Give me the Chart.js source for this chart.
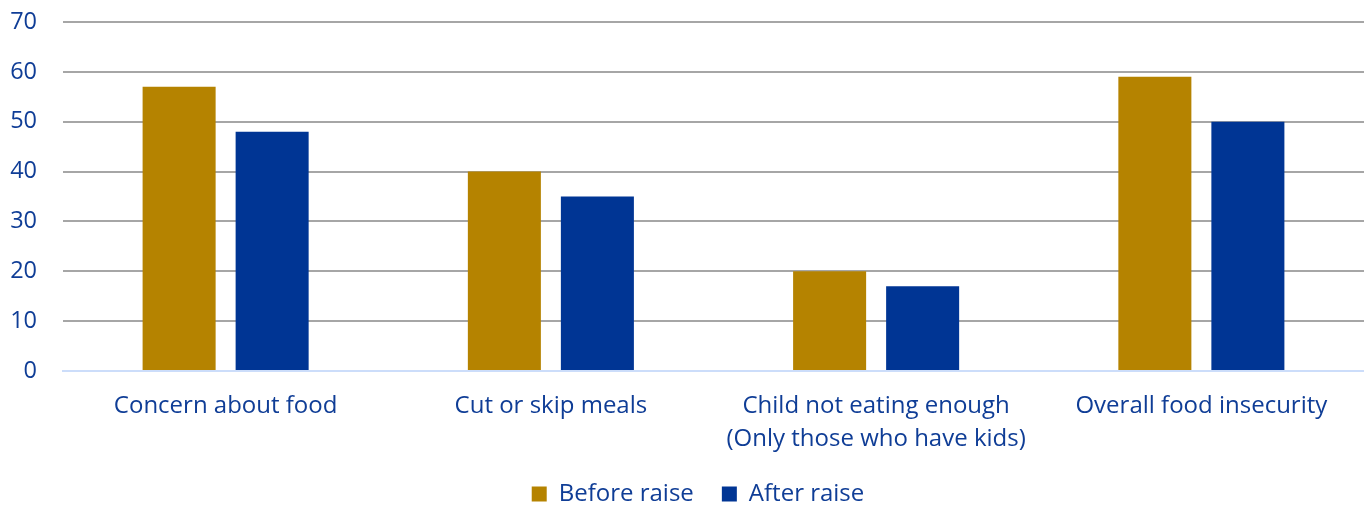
<!DOCTYPE html>
<html>
<head>
<meta charset="utf-8">
<script src="https://cdn.jsdelivr.net/npm/chart.js@4"></script>
<style>
html,body{margin:0;padding:0;background:#fff;}
#wrap{width:1364px;height:506px;}
</style>
</head>
<body>
<div id="wrap"><canvas id="c" width="1364" height="506"></canvas></div>
<script>
const categories = [["Concern about food"], ["Cut or skip meals"], ["Child not eating enough", "(Only those who have kids)"], ["Overall food insecurity"]];
const beforeRaise = [57, 40, 20, 59];
const afterRaise = [48, 35, 17, 50];
const yTicks = [0, 10, 20, 30, 40, 50, 60, 70];

const textColor = '#0F3D96';
const fontFamily = '"Open Sans", "Noto Sans", sans-serif';

const legendShift = {
  id: 'legendShift',
  afterLayout(chart) {
    if (chart.legend) { chart.legend.left += 32; }
  }
};

new Chart(document.getElementById('c'), {
  type: 'bar',
  data: {
    labels: categories,
    datasets: [
      { label: 'Before raise', data: beforeRaise, backgroundColor: '#B58300', categoryPercentage: 0.572, barPercentage: 0.785 },
      { label: 'After raise', data: afterRaise, backgroundColor: '#003594', categoryPercentage: 0.572, barPercentage: 0.785 }
    ]
  },
  plugins: [legendShift],
  options: {
    responsive: false,
    animation: false,
    devicePixelRatio: 1,
    layout: { padding: { top: 0, right: 0, left: 0, bottom: -10 } },
    plugins: {
      tooltip: { enabled: false },
      legend: {
        position: 'bottom',
        labels: {
          color: textColor,
          font: { family: fontFamily, size: 24 },
          boxWidth: 15, boxHeight: 15,
          padding: 28
        }
      }
    },
    scales: {
      x: {
        grid: { display: false },
        border: { display: true, color: '#CCDDFA', width: 2 },
        afterFit: (s) => { s.height = s.height - 13; },
        ticks: { color: textColor, font: { family: fontFamily, size: 24, lineHeight: 1.375 }, padding: 11, maxRotation: 0 }
      },
      y: {
        min: 0, max: 70,
        afterBuildTicks: (s) => { s.ticks = yTicks.map(v => ({ value: v })); },
        afterFit: (s) => { s.width = 63; s.paddingTop = 22; s.paddingBottom = 0; },
        grid: {
          color: (ctx) => ctx.tick && ctx.tick.value === 0 ? 'rgba(0,0,0,0)' : '#A6A6A6',
          lineWidth: 2,
          drawTicks: false
        },
        border: { display: false },
        ticks: { color: textColor, font: { family: fontFamily, size: 23.5 }, padding: 26 }
      }
    }
  }
});
</script>
</body>
</html>
